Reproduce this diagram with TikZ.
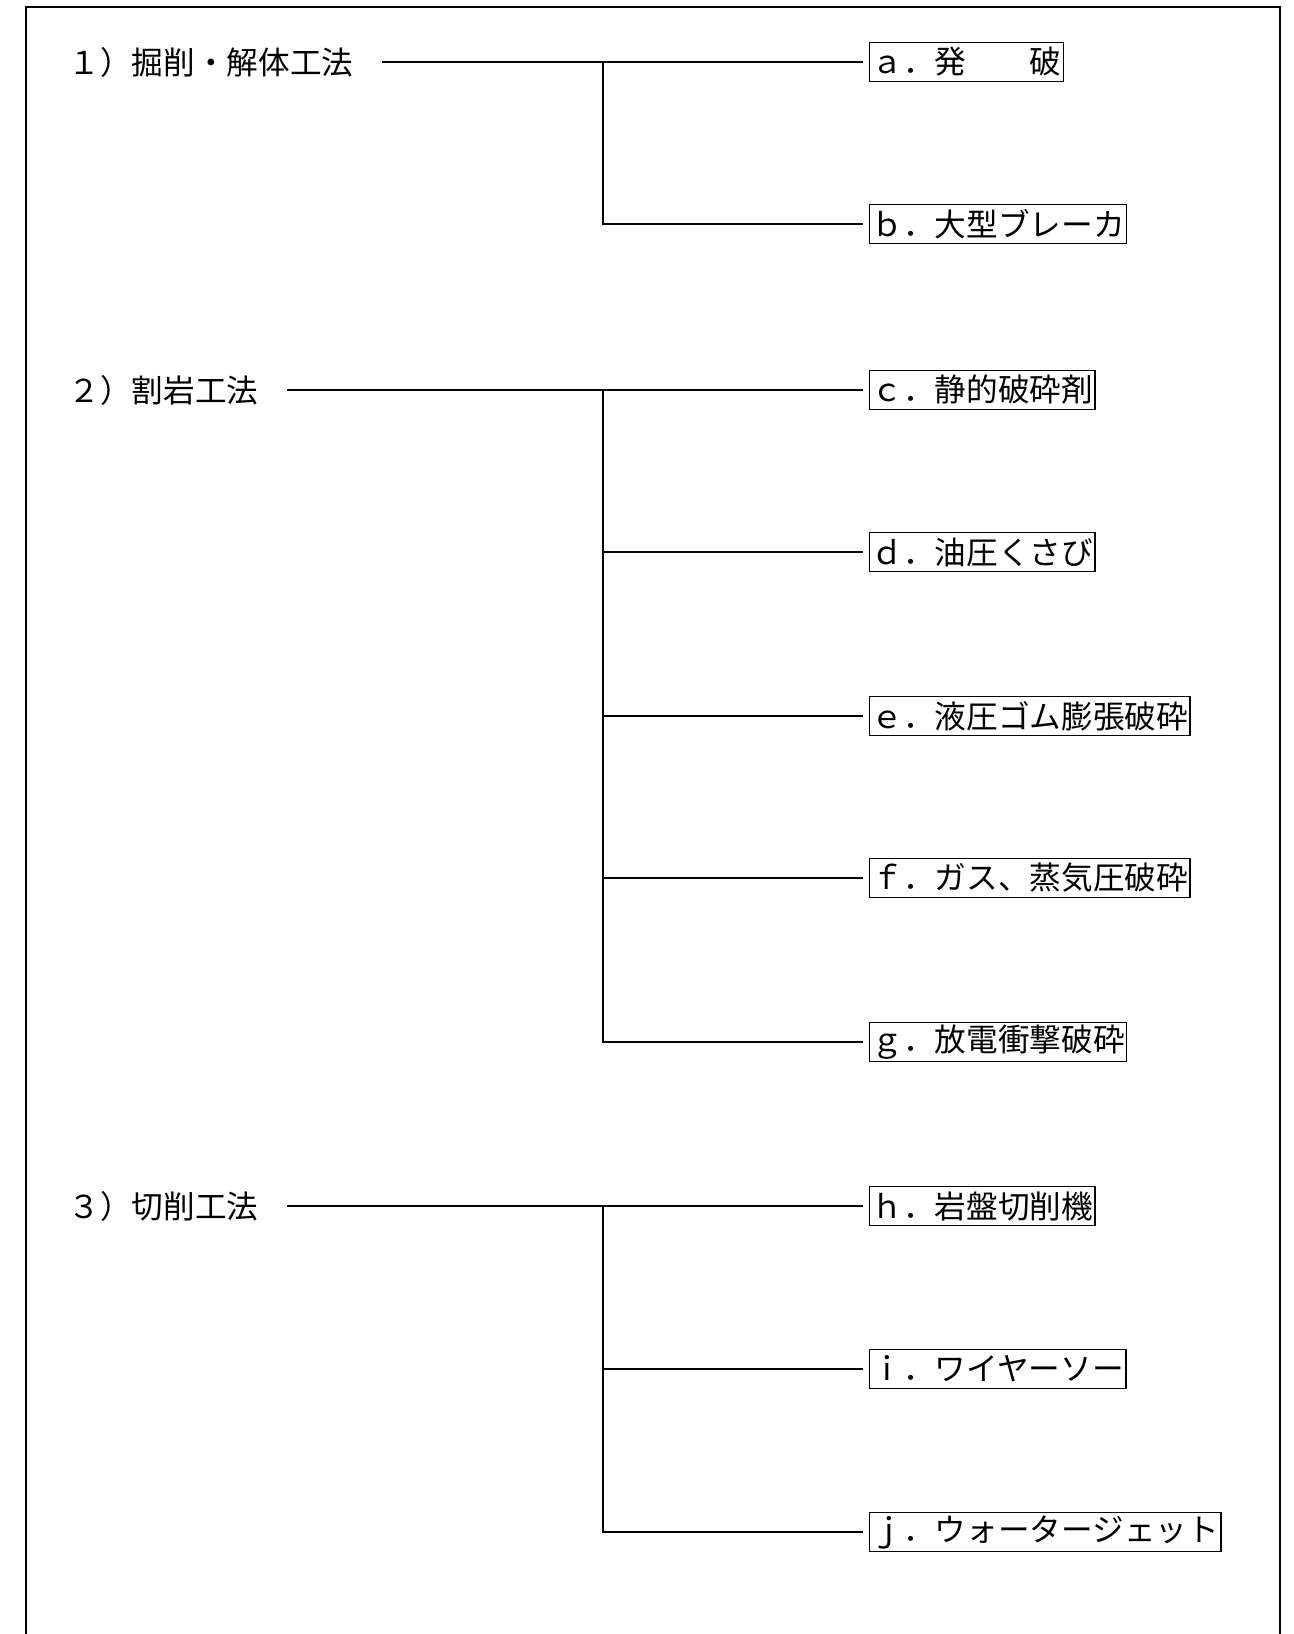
\documentclass[tikz,border=0pt]{standalone}
\usepackage{fontspec}
\setmainfont{Noto Sans CJK JP}
\begin{document}
\begin{tikzpicture}[line width=0.4pt,
		group/.style={anchor=west, inner sep=0pt},
		item/.style={draw, anchor=west, inner xsep=0.02cm, inner ysep=0pt, minimum height=0.39cm},
		link/.style={shorten >=0.06cm}]
		\fontsize{9pt}{11pt}\selectfont
		\useasboundingbox (0, 0) rectangle (12.93, -16.34);
		\draw[line width=0.5pt] (0.26, -16.34) -- (0.26, -0.07) -- (12.80, -0.07) -- (12.80, -16.34);
		% left column
		\node[group] (kussaku) at (0.68, -0.62) {１）掘削・解体工法};
		\node[group] (wariiwa) at (0.68, -3.90) {２）割岩工法};
		\node[group] (sessaku) at (0.68, -12.06) {３）切削工法};
		% right column
		\node[item] (a) at (8.69, -0.62) {ａ．発　　破};
		\node[item] (b) at (8.69, -2.24) {ｂ．大型ブレーカ};
		\node[item] (c) at (8.69, -3.90) {ｃ．静的破砕剤};
		\node[item] (d) at (8.69, -5.52) {ｄ．油圧くさび};
		\node[item] (e) at (8.69, -7.16) {ｅ．液圧ゴム膨張破砕};
		\node[item] (f) at (8.69, -8.78) {ｆ．ガス、蒸気圧破砕};
		\node[item] (g) at (8.69, -10.42) {ｇ．放電衝撃破砕};
		\node[item] (h) at (8.69, -12.06) {ｈ．岩盤切削機};
		\node[item] (i) at (8.69, -13.69) {ｉ．ワイヤーソー};
		\node[item] (j) at (8.69, -15.32) {ｊ．ウォータージェット};
		\coordinate (k1) at (6.03, -0.62);
		\coordinate (k2) at (6.03, -3.90);
		\coordinate (k3) at (6.03, -12.06);
		\draw[link, shorten <=0.28cm] (kussaku.east) -- (a.west);
		\draw[link] (k1) |- (b.west);
		\draw[link, shorten <=0.28cm] (wariiwa.east) -- (c.west);
		\draw[link] (k2) |- (d.west);
		\draw[link] (k2) |- (e.west);
		\draw[link] (k2) |- (f.west);
		\draw[link] (k2) |- (g.west);
		\draw[link, shorten <=0.28cm] (sessaku.east) -- (h.west);
		\draw[link] (k3) |- (i.west);
		\draw[link] (k3) |- (j.west);
	\end{tikzpicture}
\end{document}
